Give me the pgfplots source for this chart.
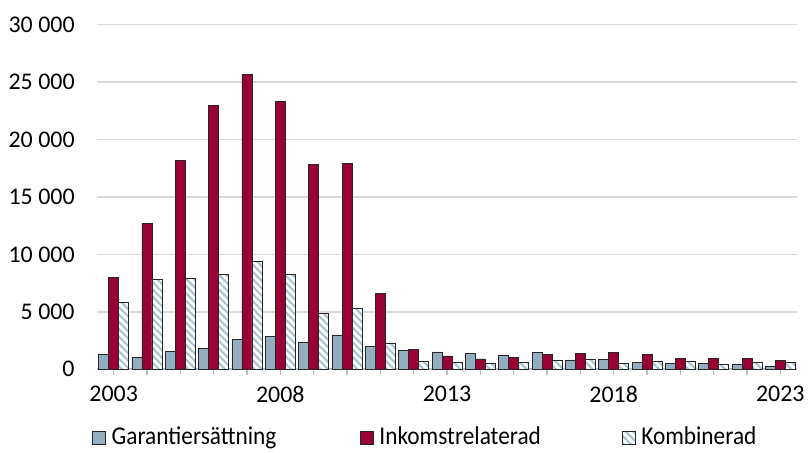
\documentclass[border=0pt]{standalone}
\usepackage{fontspec}
\setmainfont{Carlito}
\usepackage{pgfplots}
\pgfplotsset{compat=1.18}
\usepackage{pgfplotstable}
\usetikzlibrary{patterns.meta}

\definecolor{garanti}{HTML}{93AEC1}
\definecolor{inkomst}{HTML}{990033}
\definecolor{stripe}{HTML}{A3C2D4}
\definecolor{gridgray}{HTML}{D9D9D9}
\definecolor{axisgray}{HTML}{BFBFBF}

% antal per år
\pgfplotstableread{
year G I K
2003 1300 8000 5800
2004 1070 12670 7830
2005 1570 18210 7880
2006 1850 22970 8270
2007 2580 25700 9360
2008 2870 23340 8290
2009 2350 17840 4840
2010 2960 17920 5270
2011 2030 6580 2260
2012 1650 1710 725
2013 1510 1160 580
2014 1360 900 490
2015 1190 1070 580
2016 1480 1330 750
2017 810 1390 840
2018 840 1450 520
2019 580 1330 725
2020 490 960 670
2021 490 930 460
2022 410 960 610
2023 290 750 580
}\data

\newcommand{\leg}[1]{\scalebox{1}[1.1]{#1}}

\begin{document}
\begin{tikzpicture}
\path[use as bounding box] (-48.5bp,-41.85bp) rectangle (355.5bp,184.65bp);
\begin{axis}[
    scale only axis,
    width=350bp,
    height=172.3bp,
    ybar=0pt,
    bar width=5bp,
    xmin=2002.5, xmax=2023.5,
    ymin=0, ymax=30000,
    ytick={0,5000,...,30000},
    scaled y ticks=false,
    xtick={2003,2008,2013,2018,2023},
    minor xtick={2003,...,2023},
    x tick label style={/pgf/number format/1000 sep={}},
    y tick label style={/pgf/number format/fixed, /pgf/number format/precision=0, /pgf/number format/1000 sep={\ }},
    /pgf/number format/assume math mode=true,
    tick label style={font=\fontsize{12}{14}\selectfont},
    yticklabel style={inner sep=0pt, xshift=-8bp},
    xticklabel style={inner sep=0pt, yshift=-5bp},
    ymajorgrids,
    grid style={gridgray, line width=0.75bp},
    axis lines*=left,
    y axis line style={draw=none},
    x axis line style={axisgray, line width=0.9bp},
    ytick style={draw=none},
    xtick style={axisgray, line width=0.6bp},
    tick align=outside,
    major tick length=3bp,
    minor tick length=3bp,
    legend style={at={(-0.00714,-0.198)}, anchor=west, draw=none, inner sep=0pt,
        nodes={inner sep=0pt},
        font=\fontsize{11.7}{14}\selectfont, legend columns=3,
        /tikz/every odd column/.append style={column sep=2.75bp},
        /tikz/every even column/.append style={column sep=0bp}},
    legend cell align=left,
    legend image code/.code={\draw[#1] (0bp,-3.25bp) rectangle (6.5bp,3.25bp);},
    every axis plot/.append style={draw=black!85, line width=0.4bp},
]
\addplot[fill=garanti] table[x=year, y=G] {\data};
\addplot[fill=inkomst] table[x=year, y=I] {\data};
\addplot[fill=white, postaction={pattern={Lines[angle=-45, distance=2.6bp, line width=1bp]}, pattern color=stripe}] table[x=year, y=K] {\data};
\legend{\makebox[124.25bp][l]{\leg{Garantiersättning}}, \makebox[121.25bp][l]{\leg{Inkomstrelaterad}}, \leg{Kombinerad}}
\end{axis}
\end{tikzpicture}
\end{document}
